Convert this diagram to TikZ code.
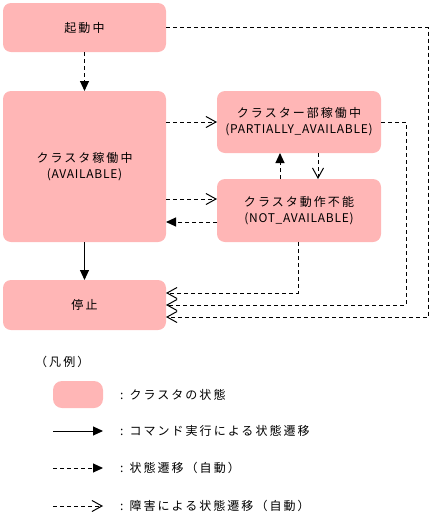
\documentclass[tikz,border=0pt]{standalone}
\usepackage{fontspec}
\setmainfont{Noto Sans CJK JP}[LetterSpace=17]
\newfontfamily\lat{Noto Sans CJK JP}[LetterSpace=6]
\usetikzlibrary{arrows.meta}
\definecolor{statefill}{HTML}{FFB6B6}
\tikzset{
  state/.style={fill=statefill, draw=none, rounded corners=8pt, outer sep=0pt, inner sep=0pt, align=center, font=\fontsize{12}{16}\selectfont},
  lbl/.style={anchor=west, inner sep=0pt, font=\fontsize{12}{15}\selectfont},
  line/.style={line width=1pt},
  cmd/.style={line, -{Triangle[length=10pt,width=9pt]}},
  auto/.style={line, dash pattern=on 4pt off 3pt, -{Triangle[length=10pt,width=9pt]}},
  fault/.style={line, dash pattern=on 4pt off 3pt, -{Straight Barb[length=10pt,width=11pt,line width=1pt]}},
}
\begin{document}
\begin{tikzpicture}[x=1pt,y=-1pt]
\useasboundingbox (0,0) rectangle (435,517);
% states
\node[state, minimum width=163pt, minimum height=49pt] (start) at (84.5,27.5) {起動中};
\node[state, minimum width=163pt, minimum height=151pt] (avail) at (84.5,166.5) {クラスタ稼働中\\{\lat (AVAILABLE)}};
\node[state, minimum width=164pt, minimum height=62pt] (partial) at (299,122) {クラスター部稼働中\\{\lat (PARTIALLY\_AVAILABLE)}};
\node[state, minimum width=164pt, minimum height=63pt] (notav) at (299,210.5) {クラスタ動作不能\\{\lat (NOT\_AVAILABLE)}};
\node[state, minimum width=163pt, minimum height=50pt] (stop) at (84.5,305) {停止};
% anchor points
\coordinate (nvUp) at ([yshift=11.5pt]notav.west);
\coordinate (nvDn) at ([yshift=-11.5pt]notav.west);
\coordinate (avUp) at (avail.east |- nvUp);
\coordinate (avDn) at (avail.east |- nvDn);
\coordinate (avPa) at (avail.east |- partial.west);
% transitions
\draw[auto] (start.south) -- (avail.north);
\draw[cmd] (avail.south) -- (stop.north);
\draw[fault] (avPa) -- (partial.west);
\draw[fault] (avUp) -- (nvUp);
\draw[auto] (nvDn) -- (avDn);
\draw[auto] ([xshift=-19pt]notav.north) -- ([xshift=-19pt]partial.south);
\draw[fault] ([xshift=19pt]partial.south) -- ([xshift=19pt]notav.north);
\draw[fault] ([xshift=-1pt]notav.south) |- ([yshift=12pt]stop.east);
\draw[fault] (partial.east) -- ++(25,0) |- (stop.east);
\draw[fault] (start.east) -- ++(262,0) |- ([yshift=-12pt]stop.east);
% legend
\node[lbl] (legtitle) at (35,362) {（凡例）};
\node[state, minimum width=50pt, minimum height=27pt, rounded corners=9pt] (legbox) at (78,394.5) {};
\node[lbl] (lt1) at (120,394.5) {:\hspace{6pt}クラスタの状態};
\coordinate (a1) at (53,431); \coordinate (b1) at (103,431);
\draw[cmd] (a1) -- (b1);
\node[lbl] (lt2) at (120,431) {:\hspace{6pt}コマンド実行による状態遷移};
\coordinate (a2) at (53,468); \coordinate (b2) at (103,468);
\draw[auto] (a2) -- (b2);
\node[lbl] (lt3) at (120,468) {:\hspace{6pt}状態遷移（自動）};
\coordinate (a3) at (53,506); \coordinate (b3) at (103,506);
\draw[fault] (a3) -- (b3);
\node[lbl] (lt4) at (120,506) {:\hspace{6pt}障害による状態遷移（自動）};
\end{tikzpicture}
\end{document}
